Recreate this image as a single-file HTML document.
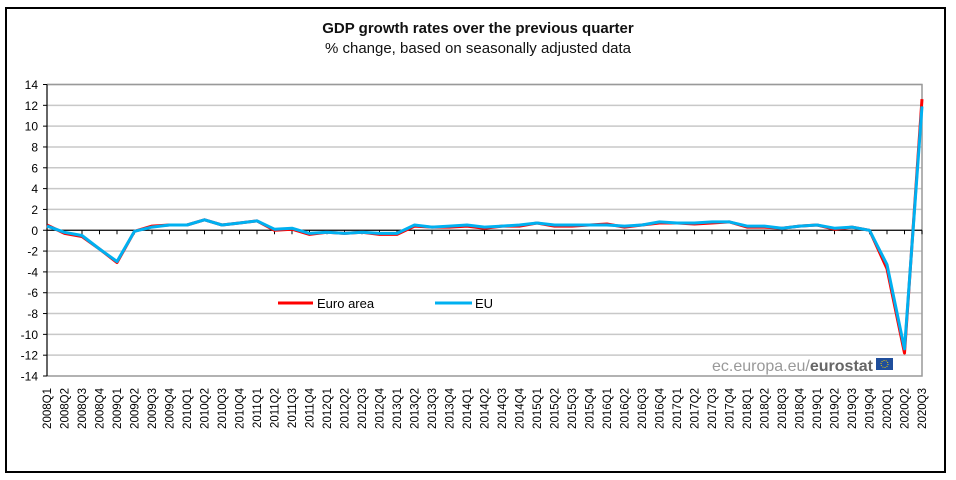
<!DOCTYPE html>
<html><head><meta charset="utf-8"><style>
html,body{margin:0;padding:0;background:#fff;width:956px;height:480px;overflow:hidden}
svg text{font-family:"Liberation Sans",Arial,sans-serif}
</style></head><body>
<svg id="chart" width="956" height="480" xmlns="http://www.w3.org/2000/svg">
<rect x="6" y="8" width="939" height="464" fill="#fff" stroke="#000" stroke-width="2"/>
<text x="478" y="33" text-anchor="middle" font-size="15" font-weight="bold" fill="#111">GDP growth rates over the previous quarter</text>
<text x="478" y="53" text-anchor="middle" font-size="15" fill="#111">% change, based on seasonally adjusted data</text>
<g id="grid"></g>
<g id="axes"></g>
<g id="series"></g>
<g>
<line x1="278" y1="303" x2="313" y2="303" stroke="#ff0000" stroke-width="3"/>
<text x="317" y="308" font-size="13" fill="#000">Euro area</text>
<line x1="435" y1="303" x2="472" y2="303" stroke="#00b0f0" stroke-width="3"/>
<text x="475" y="308" font-size="13" fill="#000">EU</text>
</g>
<g>
<text x="873" y="371" text-anchor="end" font-size="16" fill="#999">ec.europa.eu/<tspan font-weight="bold" fill="#666">eurostat</tspan></text>
<rect x="876" y="358" width="17" height="12" fill="#1f4e9c"/>
<circle cx="884.5" cy="364" r="3.5" fill="none" stroke="#f5d000" stroke-width="1" stroke-dasharray="1 1.2"/>
</g>
</svg>
<script>
const categories=["2008Q1","2008Q2","2008Q3","2008Q4","2009Q1","2009Q2","2009Q3","2009Q4","2010Q1","2010Q2","2010Q3","2010Q4","2011Q1","2011Q2","2011Q3","2011Q4","2012Q1","2012Q2","2012Q3","2012Q4","2013Q1","2013Q2","2013Q3","2013Q4","2014Q1","2014Q2","2014Q3","2014Q4","2015Q1","2015Q2","2015Q3","2015Q4","2016Q1","2016Q2","2016Q3","2016Q4","2017Q1","2017Q2","2017Q3","2017Q4","2018Q1","2018Q2","2018Q3","2018Q4","2019Q1","2019Q2","2019Q3","2019Q4","2020Q1","2020Q2","2020Q3"];
const euroArea=[0.5,-0.3,-0.6,-1.8,-3.1,-0.1,0.4,0.5,0.5,1.0,0.5,0.7,0.9,0.0,0.1,-0.4,-0.2,-0.3,-0.2,-0.4,-0.4,0.4,0.3,0.3,0.4,0.2,0.4,0.4,0.7,0.4,0.4,0.5,0.6,0.3,0.5,0.7,0.7,0.6,0.7,0.8,0.3,0.3,0.2,0.4,0.5,0.1,0.3,0.0,-3.7,-11.8,12.6];
const eu=[0.4,-0.2,-0.5,-1.8,-3.0,-0.1,0.3,0.5,0.5,1.0,0.5,0.7,0.9,0.1,0.2,-0.3,-0.2,-0.3,-0.2,-0.3,-0.3,0.5,0.3,0.4,0.5,0.3,0.4,0.5,0.7,0.5,0.5,0.5,0.5,0.4,0.5,0.8,0.7,0.7,0.8,0.8,0.4,0.4,0.2,0.4,0.5,0.2,0.3,0.0,-3.3,-11.4,11.9];
const yTicks=[14,12,10,8,6,4,2,0,-2,-4,-6,-8,-10,-12,-14];
const NS="http://www.w3.org/2000/svg";
const L=47,R=922,T=84.5,B=376,yMin=-14,yMax=14;
function xs(i){return L+i*(R-L)/(categories.length-1);}
function ys(v){return B-(v-yMin)/(yMax-yMin)*(B-T);}
function mk(tag,attrs,parent){const e=document.createElementNS(NS,tag);for(const k in attrs)e.setAttribute(k,attrs[k]);parent.appendChild(e);return e;}
const grid=document.getElementById('grid'),axes=document.getElementById('axes'),series=document.getElementById('series');
yTicks.forEach(v=>{
  if(v!==0&&v!==yMin){const g=mk('line',{x1:L,x2:R,y1:ys(v),y2:ys(v),stroke:'#c8c8c8','stroke-width':1.5},grid);
  
  }
  const t=mk('line',{x1:L-4,x2:L,y1:ys(v),y2:ys(v),stroke:'#000'},axes);
  
  
  const lb=mk('text',{x:L-9,y:ys(v)+4.5,'text-anchor':'end','font-size':12,fill:'#000'},axes);
  lb.textContent=v;
  
  
});
const border=mk('path',{d:`M${L},${T}H${R}V${B}H${L}`,fill:'none',stroke:'#999','stroke-width':1.5},axes);


const ya=mk('line',{x1:L,x2:L,y1:T,y2:B,stroke:'#000','stroke-width':1.2},axes);


const xa=mk('line',{x1:L,x2:R,y1:ys(0),y2:ys(0),stroke:'#000','stroke-width':1.2},axes);


categories.forEach((c,i)=>{
  const x=xs(i);
  const tk=mk('line',{x1:x,x2:x,y1:ys(0),y2:ys(0)+4,stroke:'#000'},axes);
  
  
  const t=mk('text',{x:0,y:0,'text-anchor':'end','font-size':11.5,fill:'#000',transform:`translate(${x+4},${388}) rotate(-90)`},axes);
  t.textContent=c;
  
  
});
function line(data,color,name){
  const d=data.map((v,i)=>(i?'L':'M')+xs(i).toFixed(1)+','+ys(v).toFixed(1)).join('');
  const p=mk('path',{d:d,fill:'none',stroke:color,'stroke-width':3,'stroke-linejoin':'round'},series);
  
  
}
line(euroArea,'#ff0000','euro-area-line');
line(eu,'#00b0f0','eu-line');
</script>
</body></html>
